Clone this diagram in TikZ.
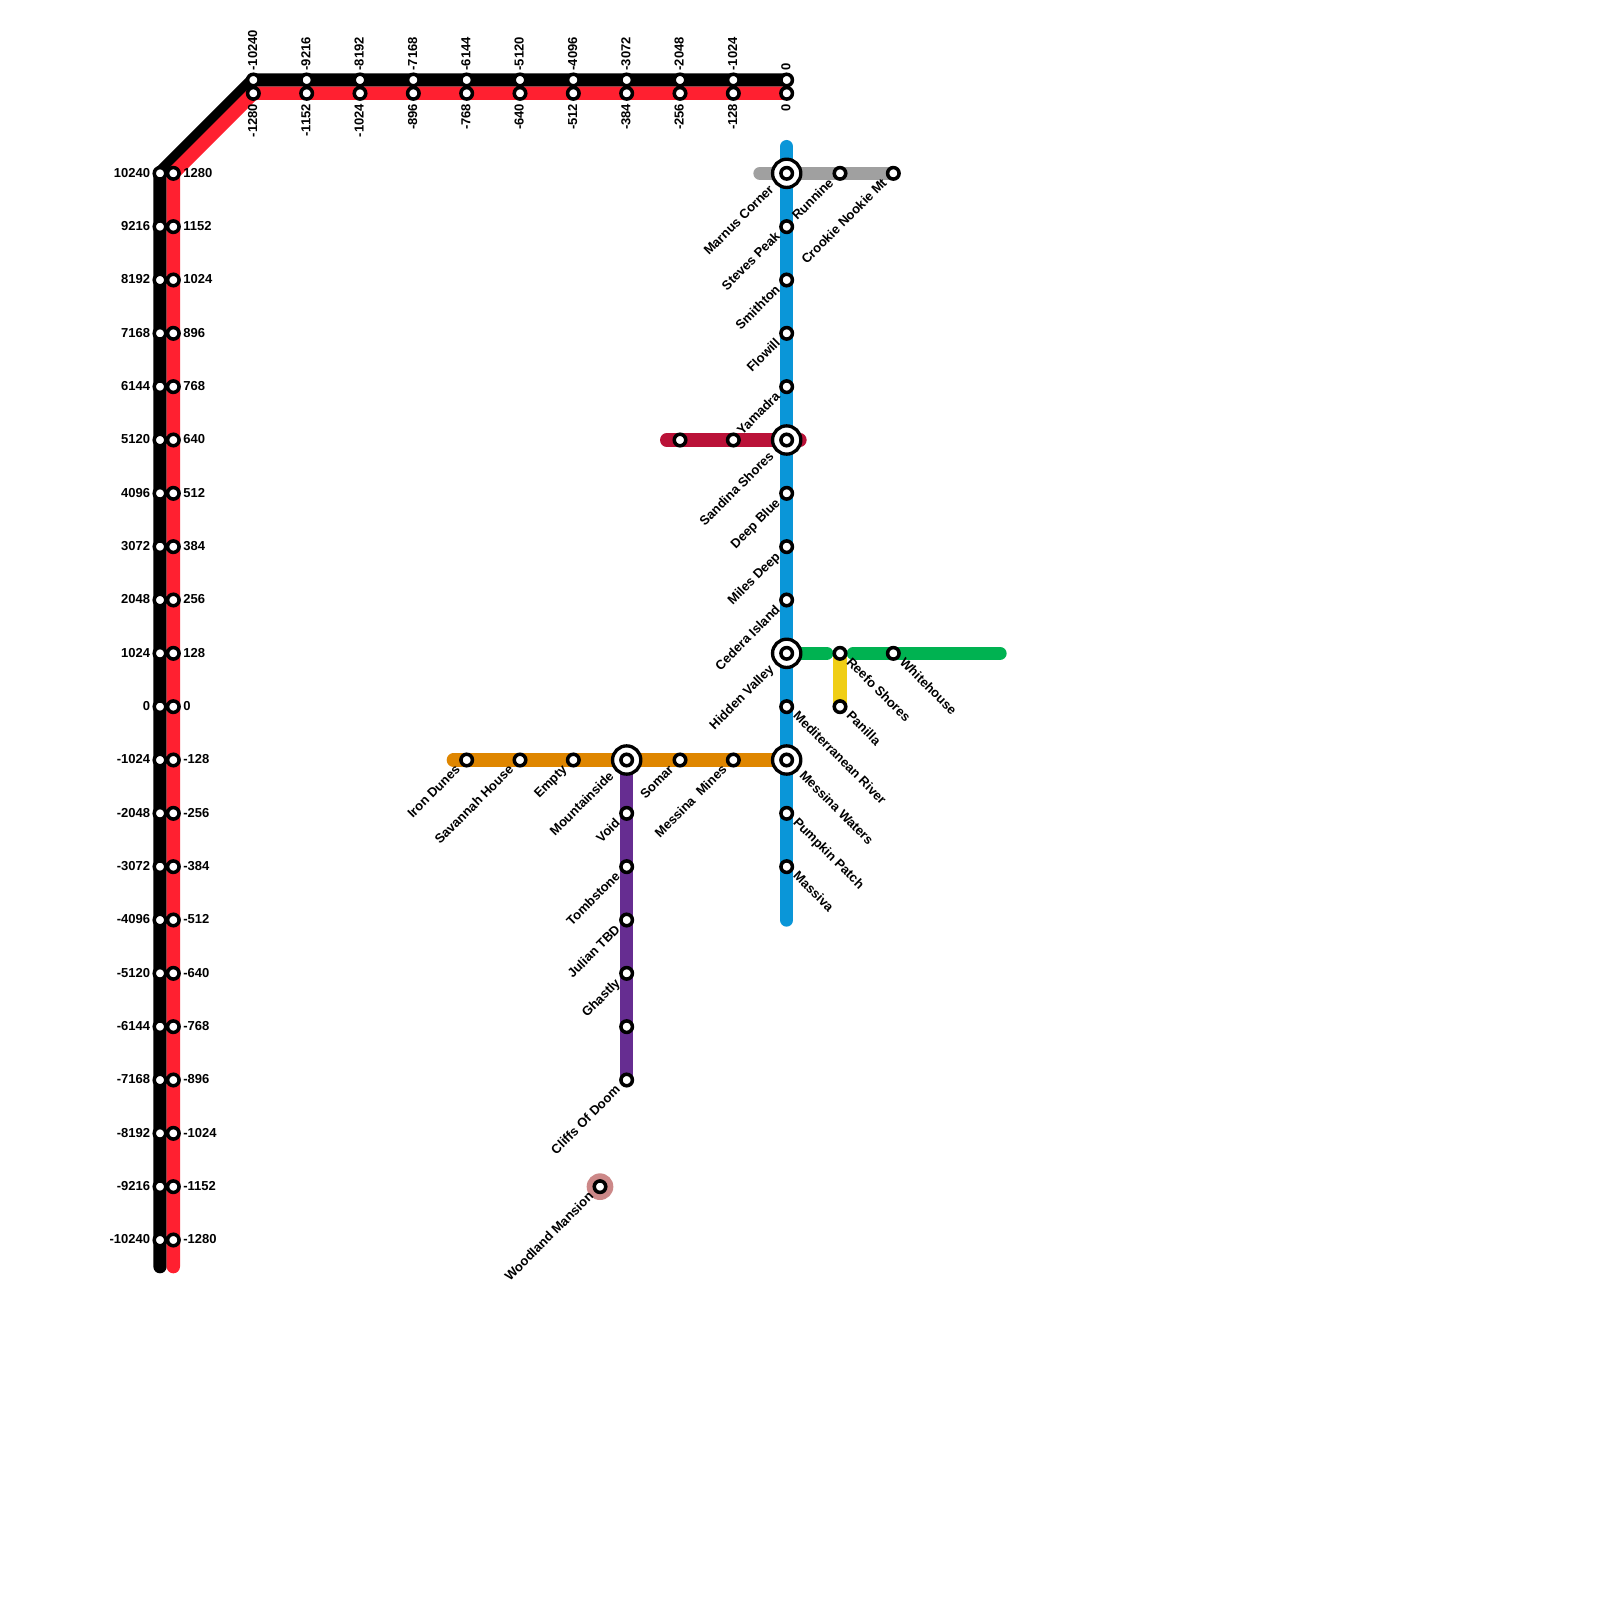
\documentclass[tikz,border=0pt]{standalone}
\usepackage{fontspec}
\setmainfont{Liberation Sans}
\usetikzlibrary{backgrounds}
\definecolor{redline}{HTML}{FF2030}
\definecolor{blueline}{HTML}{0A96D8}
\definecolor{grayline}{HTML}{A0A0A0}
\definecolor{crimsonline}{HTML}{BA1238}
\definecolor{greenline}{HTML}{00B251}
\definecolor{yellowline}{HTML}{F0CE15}
\definecolor{orangeline}{HTML}{DF8600}
\definecolor{purpleline}{HTML}{662D91}
\definecolor{mansion}{HTML}{CC8888}
\tikzset{
  metro/.style={line width=.25cm,line cap=round,line join=round},
  stn/.style={circle,draw=black,fill=white,line width=.066cm,minimum size=.216cm,inner sep=0pt,outer sep=0pt},
  hub/.style={circle,draw=black,fill=white,line width=.0625cm,minimum size=.53cm,inner sep=0pt,outer sep=0pt},
  txt/.style={inner sep=0pt,font=\fontsize{6.94}{8}\selectfont\bfseries},
  swlabel/.style={txt,rotate=45,anchor=mid east},
  selabel/.style={txt,rotate=-45,anchor=mid west},
}

\begin{document}
\begin{tikzpicture}[x=1cm,y=-1cm]
    \useasboundingbox (0,0) rectangle (30,30);

    % numbered stops
    \foreach \k in {0,...,20} {
      \node[stn] (bl\k) at (3,3.25+\k) {};
      \node[stn] (rl\k) at (3.25,3.25+\k) {};
      \node[txt,anchor=east] (bllabel\k) at (2.82,3.235+\k) {\the\numexpr10240-1024*\k\relax};
      \node[txt,anchor=west] (rllabel\k) at (3.43,3.235+\k) {\the\numexpr1280-128*\k\relax};
    }
    \foreach \k in {0,...,10} {
      \node[stn] (bt\k) at (4.75+\k,1.5) {};
      \node[stn] (rt\k) at (4.75+\k,1.75) {};
      \node[txt,rotate=90,anchor=west] (btlabel\k) at (4.735+\k,1.33) {\the\numexpr-10240+1024*\k\relax};
      \node[txt,rotate=90,anchor=east] (rtlabel\k) at (4.735+\k,1.94) {\the\numexpr-1280+128*\k\relax};
    }

    % hubs
    \node[hub] (marnushub) at (14.75,3.25) {};
    \node[hub] (sandinahub) at (14.75,8.25) {};
    \node[hub] (hiddenhub) at (14.75,12.25) {};
    \node[hub] (watershub) at (14.75,14.25) {};
    \node[hub] (mountainhub) at (11.75,14.25) {};
    \node[circle,fill=mansion,minimum size=.5cm,inner sep=0pt,outer sep=0pt] (mansiondisk) at (11.25,22.25) {};

    % named stops
    \node[stn] (marnus) at (14.75,3.25) {};
    \node[stn] (steves) at (14.75,4.25) {};
    \node[stn] (smithton) at (14.75,5.25) {};
    \node[stn] (flowill) at (14.75,6.25) {};
    \node[stn] (yamadra) at (14.75,7.25) {};
    \node[stn] (sandina) at (14.75,8.25) {};
    \node[stn] (deepblue) at (14.75,9.25) {};
    \node[stn] (milesdeep) at (14.75,10.25) {};
    \node[stn] (cedera) at (14.75,11.25) {};
    \node[stn] (hidden) at (14.75,12.25) {};
    \node[stn] (medriver) at (14.75,13.25) {};
    \node[stn] (waters) at (14.75,14.25) {};
    \node[stn] (pumpkin) at (14.75,15.25) {};
    \node[stn] (massiva) at (14.75,16.25) {};
    \node[stn] (runnine) at (15.75,3.25) {};
    \node[stn] (crookie) at (16.75,3.25) {};
    \node[stn] (crimsona) at (12.75,8.25) {};
    \node[stn] (crimsonb) at (13.75,8.25) {};
    \node[stn] (reefo) at (15.75,12.25) {};
    \node[stn] (whitehouse) at (16.75,12.25) {};
    \node[stn] (panilla) at (15.75,13.25) {};
    \node[stn] (irondunes) at (8.75,14.25) {};
    \node[stn] (savannah) at (9.75,14.25) {};
    \node[stn] (empty) at (10.75,14.25) {};
    \node[stn] (mountain) at (11.75,14.25) {};
    \node[stn] (somar) at (12.75,14.25) {};
    \node[stn] (mines) at (13.75,14.25) {};
    \node[stn] (void) at (11.75,15.25) {};
    \node[stn] (tombstone) at (11.75,16.25) {};
    \node[stn] (julian) at (11.75,17.25) {};
    \node[stn] (ghastly) at (11.75,18.25) {};
    \node[stn] (nameless) at (11.75,19.25) {};
    \node[stn] (cliffs) at (11.75,20.25) {};
    \node[stn] (woodland) at (11.25,22.25) {};

    % labels
    \node[swlabel] (marnuslabel) at (14.46,3.50) {Marnus Corner};
    \node[swlabel] (steveslabel) at (14.58,4.38) {Steves Peak};
    \node[swlabel] (smithtonlabel) at (14.58,5.38) {Smithton};
    \node[swlabel] (flowilllabel) at (14.58,6.38) {Flowill};
    \node[swlabel] (yamadralabel) at (14.58,7.38) {Yamadra};
    \node[swlabel] (sandinalabel) at (14.46,8.50) {Sandina Shores};
    \node[swlabel] (deepbluelabel) at (14.58,9.38) {Deep Blue};
    \node[swlabel] (milesdeeplabel) at (14.58,10.38) {Miles Deep};
    \node[swlabel] (cederalabel) at (14.58,11.38) {Cedera Island};
    \node[swlabel] (hiddenlabel) at (14.46,12.50) {Hidden Valley};
    \node[swlabel] (runninelabel) at (15.58,3.38) {Runnine};
    \node[swlabel] (crookielabel) at (16.58,3.38) {Crookie Nookie Mt};
    \node[swlabel] (ironduneslabel) at (8.58,14.38) {Iron Dunes};
    \node[swlabel] (savannahlabel) at (9.58,14.38) {Savannah House};
    \node[swlabel] (emptylabel) at (10.58,14.38) {Empty};
    \node[swlabel] (mountainlabel) at (11.46,14.50) {Mountainside};
    \node[swlabel] (somarlabel) at (12.58,14.38) {Somar};
    \node[swlabel] (mineslabel) at (13.58,14.38) {Messina\ \ Mines};
    \node[swlabel] (voidlabel) at (11.58,15.38) {Void};
    \node[swlabel] (tombstonelabel) at (11.58,16.38) {Tombstone};
    \node[swlabel] (julianlabel) at (11.58,17.38) {Julian TBD};
    \node[swlabel] (ghastlylabel) at (11.58,18.38) {Ghastly};
    \node[swlabel] (cliffslabel) at (11.58,20.38) {Cliffs Of Doom};
    \node[swlabel] (woodlandlabel) at (11.08,22.38) {Woodland Mansion};
    \node[selabel] (medriverlabel) at (14.92,13.365) {Mediterranean River};
    \node[selabel] (waterslabel) at (15.04,14.485) {Messina Waters};
    \node[selabel] (pumpkinlabel) at (14.92,15.365) {Pumpkin Patch};
    \node[selabel] (massivalabel) at (14.92,16.365) {Massiva};
    \node[selabel] (reefolabel) at (15.92,12.365) {Reefo Shores};
    \node[selabel] (whitehouselabel) at (16.92,12.365) {Whitehouse};
    \node[selabel] (panillalabel) at (15.92,13.365) {Panilla};

    % free line ends
    \coordinate (blacktail) at (3,23.75);
    \coordinate (redtail) at (3.25,23.75);
    \coordinate (bluetop) at (14.75,2.75);
    \coordinate (bluetail) at (14.75,17.25);
    \coordinate (graywest) at (14.25,3.25);
    \coordinate (crimsonwest) at (12.5,8.25);
    \coordinate (crimsoneast) at (15,8.25);
    \coordinate (greenstub) at (15.5,12.25);
    \coordinate (greenrestart) at (16,12.25);
    \coordinate (greeneast) at (18.75,12.25);
    \coordinate (orangewest) at (8.5,14.25);

    \begin{pgfonlayer}{background}
      \draw[metro,black] (bt10.center)--(bt0.center)--(bl0.center)--(blacktail);
      \draw[metro,redline] (rt10.center)--(rt0.center)--(rl0.center)--(redtail);
      \draw[metro,grayline] (graywest)--(crookie.center);
      \draw[metro,crimsonline] (crimsonwest)--(crimsoneast);
      \draw[metro,greenline] (hidden.center)--(greenstub);
      \draw[metro,greenline] (greenrestart)--(greeneast);
      \draw[metro,yellowline] (reefo.center)--(panilla.center);
      \draw[metro,orangeline] (orangewest)--(waters.center);
      \draw[metro,purpleline] (mountain.center)--(cliffs.center);
      \draw[metro,blueline] (bluetop)--(bluetail);
    \end{pgfonlayer}
\end{tikzpicture}
\end{document}
